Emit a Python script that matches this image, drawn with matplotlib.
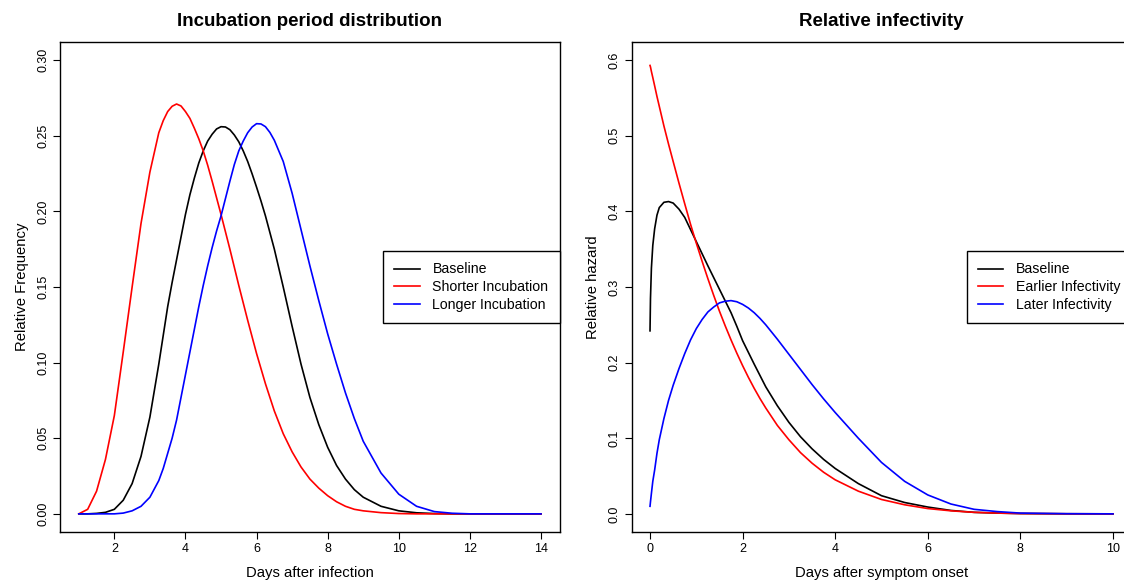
import matplotlib
matplotlib.use("Agg")
import matplotlib.pyplot as plt

# ---------------- data ----------------
inc_days = [1.0, 1.25, 1.5, 1.75, 2.0, 2.25, 2.5, 2.75, 3.0, 3.25,
            3.375, 3.5, 3.625, 3.75, 3.875, 4.0, 4.125, 4.25, 4.375, 4.5,
            4.625, 4.75, 4.875, 5.0, 5.125, 5.25, 5.375, 5.5, 5.625, 5.75,
            5.875, 6.0, 6.125, 6.25, 6.375, 6.5, 6.75, 7.0, 7.25, 7.5,
            7.75, 8.0, 8.25, 8.5, 8.75, 9.0, 9.5, 10.0, 10.5, 11.0,
            11.5, 12.0, 13.0, 14.0]
inc_baseline = [0.0, 0.0, 0.0003, 0.001, 0.003, 0.009, 0.020, 0.038, 0.064, 0.099,
                0.118, 0.137, 0.153, 0.168, 0.183, 0.198, 0.211, 0.222, 0.232, 0.240,
                0.2465, 0.251, 0.2545, 0.256, 0.2558, 0.254, 0.2505, 0.246, 0.240, 0.233,
                0.2248, 0.216, 0.2068, 0.197, 0.186, 0.175, 0.150, 0.124, 0.099, 0.077,
                0.059, 0.044, 0.032, 0.023, 0.016, 0.011, 0.005, 0.002, 0.0007, 0.0002,
                0.0, 0.0, 0.0, 0.0]
inc_shorter = [0.0, 0.003, 0.015, 0.036, 0.065, 0.107, 0.150, 0.192, 0.226, 0.252,
               0.260, 0.266, 0.2695, 0.271, 0.2697, 0.266, 0.2615, 0.255, 0.248, 0.240,
               0.2305, 0.220, 0.209, 0.198, 0.1865, 0.175, 0.163, 0.151, 0.1395, 0.128,
               0.117, 0.106, 0.096, 0.086, 0.077, 0.068, 0.053, 0.041, 0.031, 0.023,
               0.017, 0.012, 0.008, 0.005, 0.003, 0.002, 0.0008, 0.0002, 0.0, 0.0,
               0.0, 0.0, 0.0, 0.0]
inc_longer = [0.0, 0.0, 0.0, 0.0, 0.0, 0.0005, 0.002, 0.005, 0.011, 0.022,
              0.030, 0.040, 0.050, 0.062, 0.077, 0.092, 0.107, 0.122, 0.137, 0.151,
              0.164, 0.176, 0.187, 0.197, 0.2085, 0.220, 0.231, 0.240, 0.2465, 0.252,
              0.2558, 0.258, 0.2578, 0.256, 0.2522, 0.247, 0.233, 0.212, 0.188, 0.164,
              0.141, 0.119, 0.099, 0.080, 0.063, 0.048, 0.027, 0.013, 0.005, 0.0015,
              0.0004, 0.0, 0.0, 0.0]

inf_days = [0.0, 0.01, 0.03, 0.06, 0.1, 0.15, 0.2, 0.3, 0.4, 0.5,
            0.625, 0.75, 0.875, 1.0, 1.125, 1.25, 1.375, 1.5, 1.625, 1.75,
            1.875, 2.0, 2.125, 2.25, 2.375, 2.5, 2.75, 3.0, 3.25, 3.5,
            3.75, 4.0, 4.5, 5.0, 5.5, 6.0, 6.5, 7.0, 7.5, 8.0,
            9.0, 10.0]
inf_baseline = [0.242, 0.285, 0.325, 0.355, 0.377, 0.395, 0.405, 0.412, 0.413, 0.411,
                0.403, 0.392, 0.376, 0.360, 0.344, 0.328, 0.3125, 0.297, 0.2815, 0.266,
                0.248, 0.229, 0.2135, 0.198, 0.183, 0.168, 0.143, 0.121, 0.102, 0.086,
                0.072, 0.060, 0.040, 0.024, 0.015, 0.009, 0.0045, 0.002, 0.001, 0.0004,
                0.0001, 0.0]
inf_earlier = [0.593, 0.591, 0.585, 0.577, 0.566, 0.552, 0.539, 0.513, 0.489, 0.466,
               0.4375, 0.410, 0.383, 0.358, 0.334, 0.311, 0.289, 0.268, 0.2485, 0.230,
               0.2125, 0.196, 0.1805, 0.166, 0.1525, 0.140, 0.117, 0.098, 0.081, 0.067,
               0.055, 0.045, 0.030, 0.019, 0.012, 0.007, 0.004, 0.002, 0.001, 0.0004,
               0.0001, 0.0]
inf_later = [0.010, 0.016, 0.027, 0.043, 0.058, 0.080, 0.098, 0.126, 0.150, 0.170,
             0.192, 0.212, 0.230, 0.245, 0.257, 0.267, 0.2735, 0.279, 0.2812, 0.282,
             0.2805, 0.277, 0.2722, 0.266, 0.2585, 0.250, 0.231, 0.211, 0.191, 0.171,
             0.152, 0.134, 0.100, 0.068, 0.043, 0.025, 0.013, 0.006, 0.003, 0.001,
             0.0002, 0.0]

inc_xticks = [2, 4, 6, 8, 10, 12, 14]
inc_yticks = [0.00, 0.05, 0.10, 0.15, 0.20, 0.25, 0.30]
inf_xticks = [0, 2, 4, 6, 8, 10]
inf_yticks = [0.0, 0.1, 0.2, 0.3, 0.4, 0.5, 0.6]

inc_labels = ["Baseline", "Shorter Incubation", "Longer Incubation"]
inf_labels = ["Baseline", "Earlier Infectivity", "Later Infectivity"]
colors = ["black", "red", "blue"]

# ---------------- style ----------------
plt.rcParams['font.family'] = ['Liberation Sans', 'DejaVu Sans']

W, H = 1124, 582
fig = plt.figure(figsize=(W / 100, H / 100), dpi=100)

def px_axes(left, top, right, bottom):
    return fig.add_axes([left / W, 1 - bottom / H, (right - left) / W, (bottom - top) / H])

ax1 = px_axes(60.3, 42, 559.5, 532)
ax2 = px_axes(631.5, 42, 1131.5, 532)

def style(ax, xlim, ylim, xticks, yticks, yfmt, title, xlabel, ylabel):
    ax.set_xlim(*xlim)
    ax.set_ylim(*ylim)
    ax.set_xticks(xticks)
    ax.set_xticklabels([str(t) for t in xticks])
    ax.set_yticks(yticks)
    ax.set_yticklabels([yfmt.format(t) for t in yticks], rotation=90, va='center')
    ax.tick_params(axis='both', direction='out', length=5, width=0.8,
                   labelsize=9, colors='black')
    ax.tick_params(axis='x', pad=3)
    ax.tick_params(axis='y', pad=3)
    for s in ax.spines.values():
        s.set_linewidth(1.0)
        s.set_color('black')
    ax.set_title(title, fontsize=13.5, fontweight='bold', pad=11.5)
    ax.set_xlabel(xlabel, fontsize=10.7, labelpad=7.8)
    ax.set_ylabel(ylabel, fontsize=10.7, labelpad=6)

for y, c, lab in zip([inc_baseline, inc_shorter, inc_longer], colors, inc_labels):
    ax1.plot(inc_days, y, color=c, lw=1.2, label=lab)
for y, c, lab in zip([inf_baseline, inf_earlier, inf_later], colors, inf_labels):
    ax2.plot(inf_days, y, color=c, lw=1.2, label=lab)

style(ax1, (0.48, 14.52), (-0.012, 0.312), inc_xticks, inc_yticks, "{:.2f}",
      "Incubation period distribution", "Days after infection", "Relative Frequency")
style(ax2, (-0.4, 10.4), (-0.024, 0.624), inf_xticks, inf_yticks, "{:.1f}",
      "Relative infectivity", "Days after symptom onset", "Relative hazard")

for ax in (ax1, ax2):
    leg = ax.legend(loc='center right', borderaxespad=0, fontsize=10.2, fancybox=False,
                    framealpha=1, edgecolor='black', handlelength=1.8,
                    handletextpad=0.9, labelspacing=0.25, borderpad=0.78)
    leg.get_frame().set_linewidth(1.0)

fig.savefig("out.png", dpi=100)
